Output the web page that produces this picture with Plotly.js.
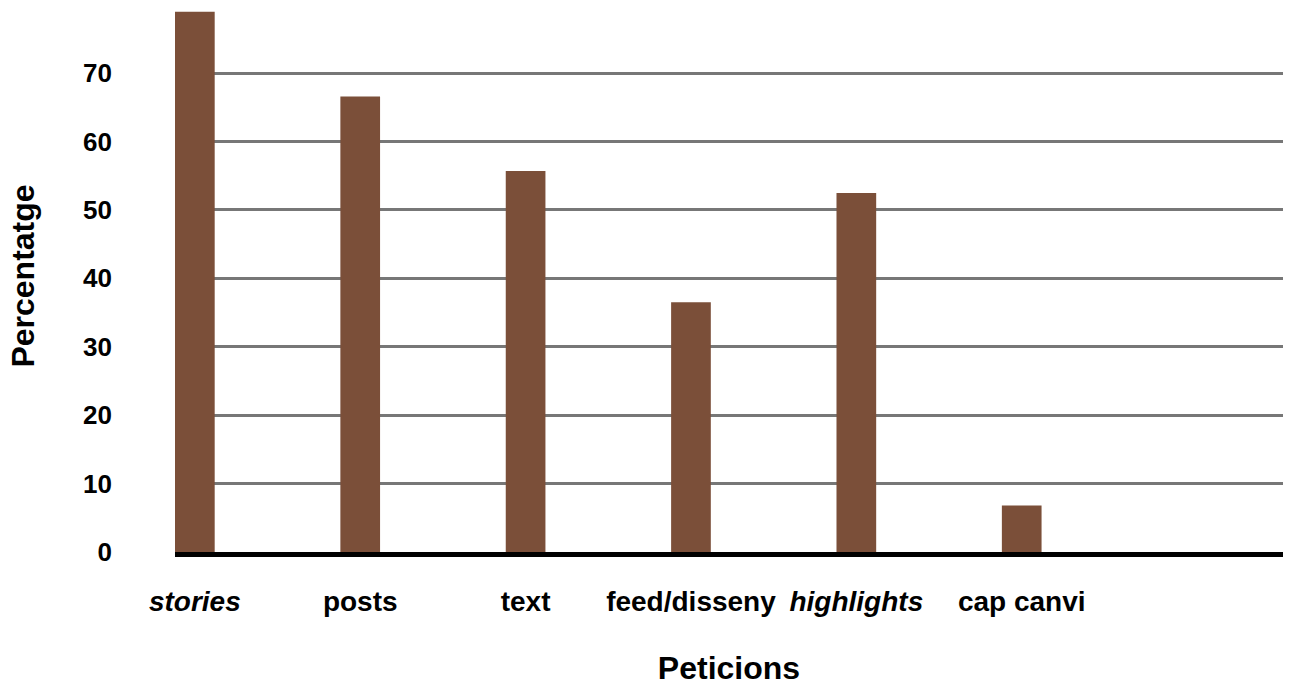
<!DOCTYPE html>
<html>
<head>
<meta charset="utf-8">
<script src="https://cdn.plot.ly/plotly-3.0.1.min.js"></script>
<style>html,body{margin:0;padding:0;background:#fff;}#chart{width:1298px;height:688px;}</style>
</head>
<body>
<div id="chart"></div>
<script>
// Data
const categories = ['stories', 'posts', 'text', 'feed/disseny', 'highlights', 'cap canvi'];
const percentages = [79, 66.6, 55.7, 36.5, 52.5, 6.8];
const italicCategories = ['stories', 'highlights'];
const yTickValues = [0, 10, 20, 30, 40, 50, 60, 70];

const tickText = categories.map(c => italicCategories.includes(c) ? '<i>' + c + '</i>' : c);

const trace = {
  type: 'bar',
  x: categories,
  y: percentages,
  marker: {color: '#7B4F39', line: {width: 0}},
  hoverinfo: 'x+y'
};

const layout = {
  width: 1298,
  height: 688,
  margin: {l: 175, r: 15, t: 0, b: 136, pad: 0},
  paper_bgcolor: '#ffffff',
  plot_bgcolor: '#ffffff',
  showlegend: false,
  bargap: 0.76,
  font: {family: 'Liberation Sans, Arial, sans-serif', color: '#000000'},
  xaxis: {
    type: 'category',
    range: [-0.12, 6.58],
    tickmode: 'array',
    tickvals: categories,
    ticktext: tickText,
    showgrid: false,
    showline: true,
    linecolor: '#000000',
    linewidth: 5,
    layer: 'above traces',
    ticks: '',
    ticklabelstandoff: 20,
    tickfont: {size: 28, family: 'Liberation Sans, Arial, sans-serif', weight: 'bold', color: '#000'},
    title: {text: '<b>Peticions</b>', standoff: 43, font: {size: 32, color: '#000'}},
    automargin: false,
    fixedrange: true
  },
  yaxis: {
    range: [0, 80.7],
    tickmode: 'array',
    tickvals: yTickValues,
    showgrid: true,
    gridcolor: '#777777',
    gridwidth: 3,
    zeroline: false,
    showline: false,
    ticks: '',
    ticklabelstandoff: 62,
    tickfont: {size: 26, family: 'Liberation Sans, Arial, sans-serif', weight: 'bold', color: '#000'},
    title: {text: '<b>Percentatge</b>', standoff: 38, font: {size: 32, color: '#000'}},
    automargin: false,
    fixedrange: true
  }
};

Plotly.newPlot('chart', [trace], layout, {displayModeBar: false, staticPlot: true});
</script>
</body>
</html>
